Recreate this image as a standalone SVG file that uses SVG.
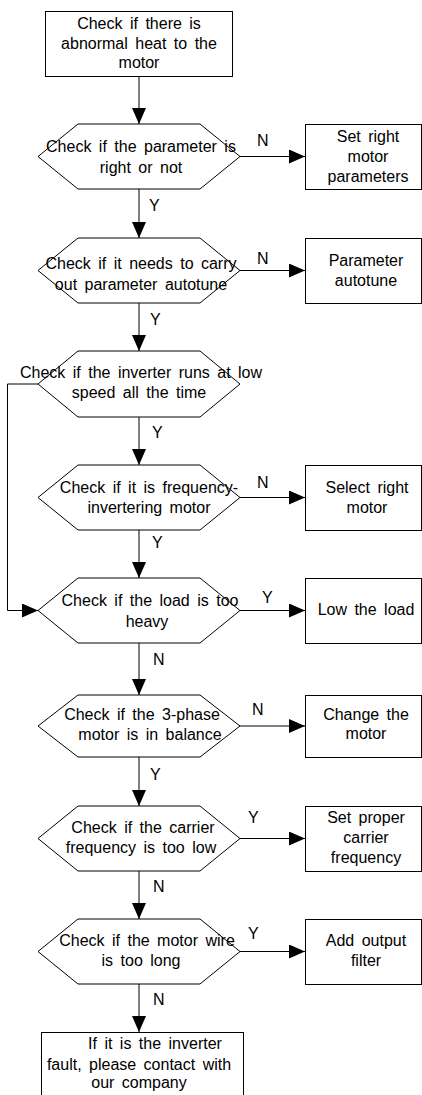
<svg xmlns="http://www.w3.org/2000/svg" width="422" height="1095" viewBox="0 0 422 1095">
<style>
.s{fill:#fff;stroke:#000;stroke-width:1}
.c{fill:none;stroke:#000;stroke-width:1}
text{font-family:"Liberation Sans",Arial,sans-serif;font-size:16px;fill:#000;word-spacing:3px}
.m{text-anchor:middle}
</style>
<defs>
<marker id="ah" markerWidth="16" markerHeight="14" refX="16" refY="7" orient="auto" markerUnits="userSpaceOnUse">
<path d="M0,0 L16,7 L0,14 Z" fill="#000"/>
</marker>
</defs>
<g id="connectors">
<line class="c" x1="139" y1="76" x2="139" y2="124" marker-end="url(#ah)"/>
<line class="c" x1="139" y1="189" x2="139" y2="238" marker-end="url(#ah)"/>
<line class="c" x1="139" y1="303" x2="139" y2="351" marker-end="url(#ah)"/>
<line class="c" x1="139" y1="417" x2="139" y2="465" marker-end="url(#ah)"/>
<line class="c" x1="139" y1="530" x2="139" y2="578" marker-end="url(#ah)"/>
<line class="c" x1="139" y1="643" x2="139" y2="695" marker-end="url(#ah)"/>
<line class="c" x1="139" y1="757" x2="139" y2="806" marker-end="url(#ah)"/>
<line class="c" x1="139" y1="871" x2="139" y2="919" marker-end="url(#ah)"/>
<line class="c" x1="139" y1="984" x2="139" y2="1032" marker-end="url(#ah)"/>
<line class="c" x1="240" y1="156.5" x2="305" y2="156.5" marker-end="url(#ah)"/>
<line class="c" x1="240" y1="270.5" x2="305" y2="270.5" marker-end="url(#ah)"/>
<line class="c" x1="240" y1="497.5" x2="305" y2="497.5" marker-end="url(#ah)"/>
<line class="c" x1="240" y1="610.5" x2="305" y2="610.5" marker-end="url(#ah)"/>
<line class="c" x1="240" y1="726" x2="305" y2="726" marker-end="url(#ah)"/>
<line class="c" x1="240" y1="838.5" x2="305" y2="838.5" marker-end="url(#ah)"/>
<line class="c" x1="240" y1="951.5" x2="305" y2="951.5" marker-end="url(#ah)"/>
<polyline class="c" points="38,384 7.5,384 7.5,610.5 38,610.5" marker-end="url(#ah)"/>
<text x="257" y="146">N</text>
<text x="149" y="211">Y</text>
<text x="257" y="264">N</text>
<text x="150" y="325">Y</text>
<text x="152" y="438">Y</text>
<text x="257" y="488">N</text>
<text x="152" y="548">Y</text>
<text x="262" y="603">Y</text>
<text x="153" y="665">N</text>
<text x="252" y="715">N</text>
<text x="150" y="780">Y</text>
<text x="248" y="823">Y</text>
<text x="153" y="892">N</text>
<text x="248" y="939">Y</text>
<text x="153" y="1005">N</text>
</g>
<g id="start">
<rect class="s" x="45.5" y="11.5" width="187" height="65"/>
<text class="m" x="139" y="29">Check if there is</text>
<text class="m" x="139" y="49">abnormal heat to the</text>
<text class="m" x="139" y="68">motor</text>
</g>
<g id="d1">
<polygon class="s" points="78,124 200,124 240,156.5 200,189 78,189 38,156.5"/>
<text class="m" x="141" y="152">Check if the parameter is</text>
<text class="m" x="141" y="173">right or not</text>
</g>
<g id="b1">
<rect class="s" x="305.5" y="124.5" width="116" height="65"/>
<text class="m" x="368" y="142">Set right</text>
<text class="m" x="368" y="162">motor</text>
<text class="m" x="368" y="182">parameters</text>
</g>
<g id="d2">
<polygon class="s" points="78,238 200,238 240,270.5 200,303 78,303 38,270.5"/>
<text class="m" x="141" y="269">Check if it needs to carry</text>
<text class="m" x="141" y="290">out parameter autotune</text>
</g>
<g id="b2">
<rect class="s" x="305.5" y="238.5" width="116" height="65"/>
<text class="m" x="366" y="266">Parameter</text>
<text class="m" x="366" y="286">autotune</text>
</g>
<g id="d3">
<polygon class="s" points="78,351 200,351 240,384 200,417 78,417 38,384"/>
<text class="m" x="141" y="378">Check if the inverter runs at low</text>
<text class="m" x="139" y="398">speed all the time</text>
</g>
<g id="d4">
<polygon class="s" points="78,465 200,465 240,497.5 200,530 78,530 38,497.5"/>
<text class="m" x="149" y="493">Check if it is frequency-</text>
<text class="m" x="149" y="513">invertering motor</text>
</g>
<g id="b4">
<rect class="s" x="305.5" y="465.5" width="116" height="65"/>
<text class="m" x="367" y="493">Select right</text>
<text class="m" x="367" y="513">motor</text>
</g>
<g id="d5">
<polygon class="s" points="78,578 200,578 240,610.5 200,643 78,643 38,610.5"/>
<text class="m" x="150" y="606">Check if the load is too</text>
<text class="m" x="147" y="627">heavy</text>
</g>
<g id="b5">
<rect class="s" x="305.5" y="578.5" width="116" height="65"/>
<text class="m" x="366" y="615">Low the load</text>
</g>
<g id="d6">
<polygon class="s" points="78,695 200,695 240,726 200,757 78,757 38,726"/>
<text class="m" x="142" y="720">Check if the 3-phase</text>
<text class="m" x="150" y="740">motor is in balance</text>
</g>
<g id="b6">
<rect class="s" x="305.5" y="695.5" width="116" height="62"/>
<text class="m" x="366" y="720">Change the</text>
<text class="m" x="366" y="739">motor</text>
</g>
<g id="d7">
<polygon class="s" points="78,806 200,806 240,838.5 200,871 78,871 38,838.5"/>
<text class="m" x="143" y="833">Check if the carrier</text>
<text class="m" x="141" y="853">frequency is too low</text>
</g>
<g id="b7">
<rect class="s" x="305.5" y="806.5" width="116" height="65"/>
<text class="m" x="366" y="823">Set proper</text>
<text class="m" x="366" y="843">carrier</text>
<text class="m" x="366" y="863">frequency</text>
</g>
<g id="d8">
<polygon class="s" points="78,919 200,919 240,951.5 200,984 78,984 38,951.5"/>
<text class="m" x="147" y="946">Check if the motor wire</text>
<text class="m" x="141" y="966">is too long</text>
</g>
<g id="b8">
<rect class="s" x="305.5" y="919.5" width="116" height="65"/>
<text class="m" x="366" y="946">Add output</text>
<text class="m" x="366" y="966">filter</text>
</g>
<g id="end">
<rect class="s" x="41.5" y="1032.5" width="202" height="70"/>
<text class="m" x="155" y="1049">If it is the inverter</text>
<text class="m" x="139" y="1070">fault, please contact with</text>
<text class="m" x="139" y="1088">our company</text>
</g>
</svg>
